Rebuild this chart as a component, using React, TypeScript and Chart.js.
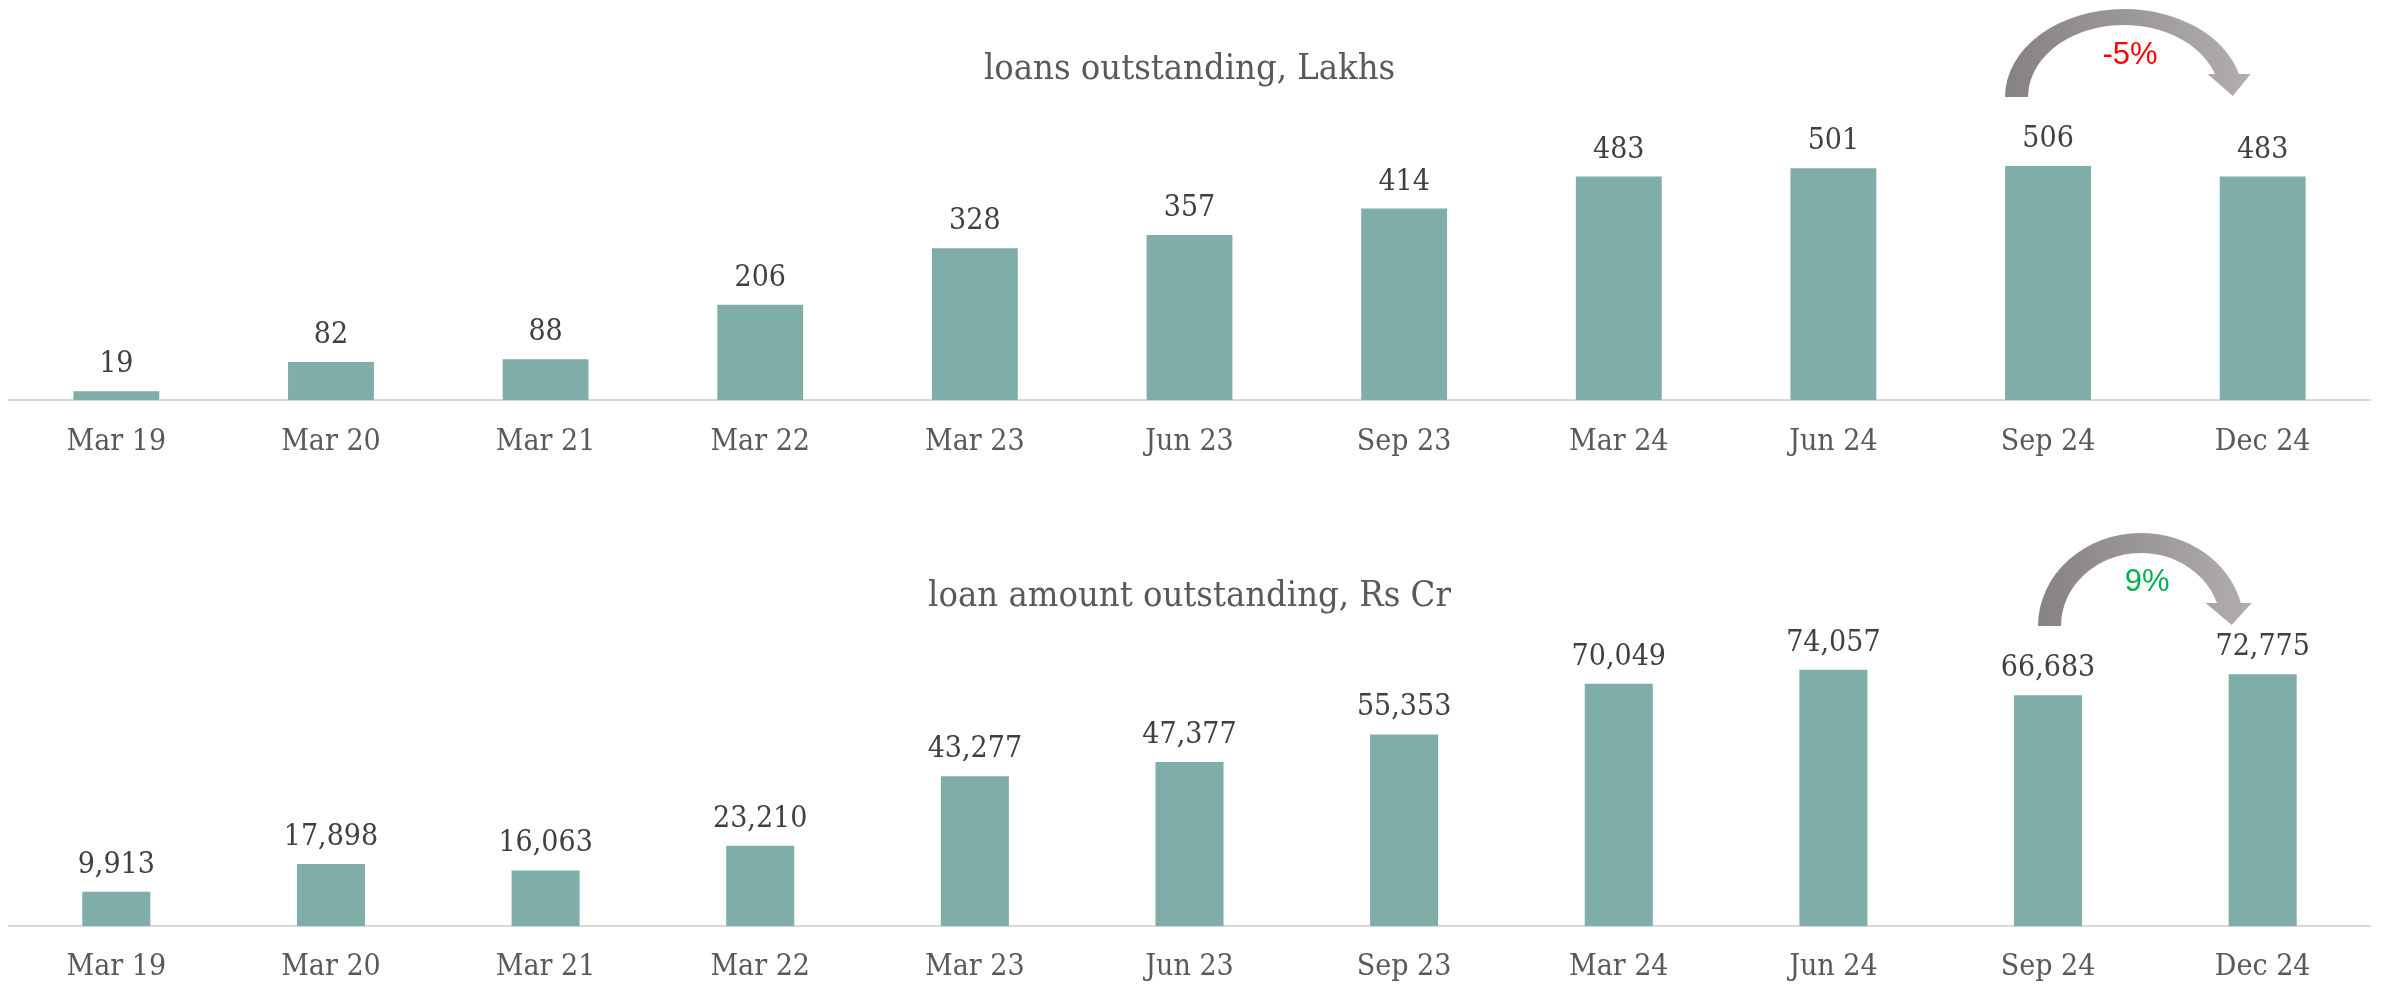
import React, { useEffect, useRef } from 'react';
import { Chart, registerables } from 'chart.js';

Chart.register(...registerables);

const categories = ['Mar 19', 'Mar 20', 'Mar 21', 'Mar 22', 'Mar 23', 'Jun 23', 'Sep 23', 'Mar 24', 'Jun 24', 'Sep 24', 'Dec 24'];
const loansLakhs = [19, 82, 88, 206, 328, 357, 414, 483, 501, 506, 483];
const loanAmountCr = [9913, 17898, 16063, 23210, 43277, 47377, 55353, 70049, 74057, 66683, 72775];
const topTitle = 'loans outstanding, Lakhs';
const bottomTitle = 'loan amount outstanding, Rs Cr';
const topChange = '-5%';
const bottomChange = '9%';
const topYMax = 600;
const bottomYMax = 80000;

const SERIF = '"DejaVu Serif Condensed", "DejaVu Serif", serif';
const SANS = '"Liberation Sans", Arial, sans-serif';
const BAR = '#7fada7';

const valueLabelPlugin = {
  id: 'valueLabels',
  afterDatasetsDraw(chart: any, _args: any, opts: any) {
    const ctx = chart.ctx;
    const meta = chart.getDatasetMeta(0);
    const data = chart.data.datasets[0].data;
    ctx.save();
    ctx.font = `${opts.size}px ${SERIF}`;
    ctx.fillStyle = opts.color;
    ctx.textAlign = 'center';
    ctx.textBaseline = 'alphabetic';
    meta.data.forEach((bar: any, i: number) => {
      ctx.fillText(Number(data[i]).toLocaleString('en-US'), bar.x, bar.y - opts.gap);
    });
    ctx.restore();
  },
};

const arrowPlugin = {
  id: 'changeArrow',
  afterDatasetsDraw(chart: any, _args: any, o: any) {
    if (!o || !o.text) return;
    const ctx = chart.ctx;
    const xs = chart.scales.x.getPixelForValue(o.from);
    const xd = chart.scales.x.getPixelForValue(o.to);
    const cx = xs + o.cxOff;
    const baseY = o.baseY;
    const rxO = o.rxO, ryO = o.ryO, rxI = o.rxI, ryI = o.ryI;
    const d = baseY - o.headTopY;
    const aO = 2 * Math.PI - Math.asin(d / ryO);
    const aI = 2 * Math.PI - Math.asin(d / ryI);
    ctx.save();
    const g = ctx.createLinearGradient(cx - rxO, 0, xd, 0);
    g.addColorStop(0, '#858281');
    g.addColorStop(0.5, '#9c9998');
    g.addColorStop(1, '#b4b0af');
    ctx.fillStyle = g;
    ctx.beginPath();
    ctx.ellipse(cx, baseY, rxO, ryO, 0, Math.PI, aO, false);
    ctx.lineTo(xd + o.headR, o.headTopY);
    ctx.lineTo(xd + o.tipX, o.tipY);
    ctx.lineTo(xd + o.headL, o.headTopY);
    ctx.lineTo(cx + rxI * Math.cos(aI), baseY + ryI * Math.sin(aI));
    ctx.ellipse(cx, baseY, rxI, ryI, 0, aI, Math.PI, true);
    ctx.closePath();
    ctx.fill();
    ctx.font = `${o.size}px ${SANS}`;
    ctx.fillStyle = o.color;
    ctx.textAlign = 'center';
    ctx.textBaseline = 'middle';
    ctx.fillText(o.text, xs + o.textX, o.textY);
    ctx.restore();
  },
};

type PanelProps = {
  height: number;
  values: number[];
  title: string;
  yMax: number;
  barPct: number;
  titlePad: { top: number; bottom: number };
  tickPad: number;
  bottomPad: number;
  arrow: any;
};

function Panel(p: PanelProps) {
  const ref = useRef<HTMLCanvasElement | null>(null);
  useEffect(() => {
    if (!ref.current) return;
    const chart = new Chart(ref.current, {
      type: 'bar',
      data: {
        labels: categories,
        datasets: [
          {
            data: p.values,
            backgroundColor: BAR,
            borderWidth: 0,
            barPercentage: p.barPct,
            categoryPercentage: 1,
          },
        ],
      },
      options: {
        responsive: false,
        animation: false,
        devicePixelRatio: 1,
        layout: { padding: { left: 9, right: 11, top: 0, bottom: p.bottomPad } },
        scales: {
          x: {
            offset: true,
            grid: { display: false, drawTicks: false },
            border: { display: true, color: '#d9d9d9', width: 2 },
            ticks: {
              color: '#595959',
              padding: p.tickPad,
              font: { family: SERIF, size: 30, lineHeight: 1.2 },
              maxRotation: 0,
              autoSkip: false,
            },
          },
          y: { display: false, min: 0, max: p.yMax },
        },
        plugins: {
          legend: { display: false },
          tooltip: { enabled: false },
          title: {
            display: true,
            text: p.title,
            color: '#595959',
            font: { family: SERIF, size: 36, weight: 'normal', lineHeight: 1.2 },
            padding: p.titlePad,
          },
          valueLabels: { size: 30, color: '#404040', gap: 19 },
          changeArrow: p.arrow,
        } as any,
      },
      plugins: [valueLabelPlugin, arrowPlugin],
    });
    return () => chart.destroy();
  }, []);
  return (
    <div style={{ width: 2381, height: p.height }}>
      <canvas ref={ref} width={2381} height={p.height} style={{ display: 'block' }} />
    </div>
  );
}

export default function App() {
  return (
    <div style={{ position: 'absolute', left: 0, top: 0, width: 2381, height: 987, background: '#ffffff', overflow: 'hidden' }}>
      <Panel
        height={493}
        values={loansLakhs}
        title={topTitle}
        yMax={topYMax}
        barPct={0.4}
        titlePad={{ top: 48.4, bottom: 30.9 }}
        tickPad={24.5}
        bottomPad={8}
        arrow={{
          text: topChange, color: '#ff0000', size: 31,
          from: 9, to: 10,
          cxOff: 76, baseY: 97, rxO: 119, ryO: 88, rxI: 96, ryI: 72,
          headTopY: 74, headL: -55, headR: -12, tipX: -30, tipY: 96,
          textX: 82, textY: 55,
        }}
      />
      <Panel
        height={494}
        values={loanAmountCr}
        title={bottomTitle}
        yMax={bottomYMax}
        barPct={0.317}
        titlePad={{ top: 82.4, bottom: 30.6 }}
        tickPad={23.5}
        bottomPad={-22}
        arrow={{
          text: bottomChange, color: '#00b050', size: 31,
          from: 9, to: 10,
          cxOff: 93, baseY: 133, rxO: 103, ryO: 93, rxI: 80, ryI: 73,
          headTopY: 110, headL: -57, headR: -11, tipX: -31, tipY: 132,
          textX: 99, textY: 89,
        }}
      />
    </div>
  );
}
